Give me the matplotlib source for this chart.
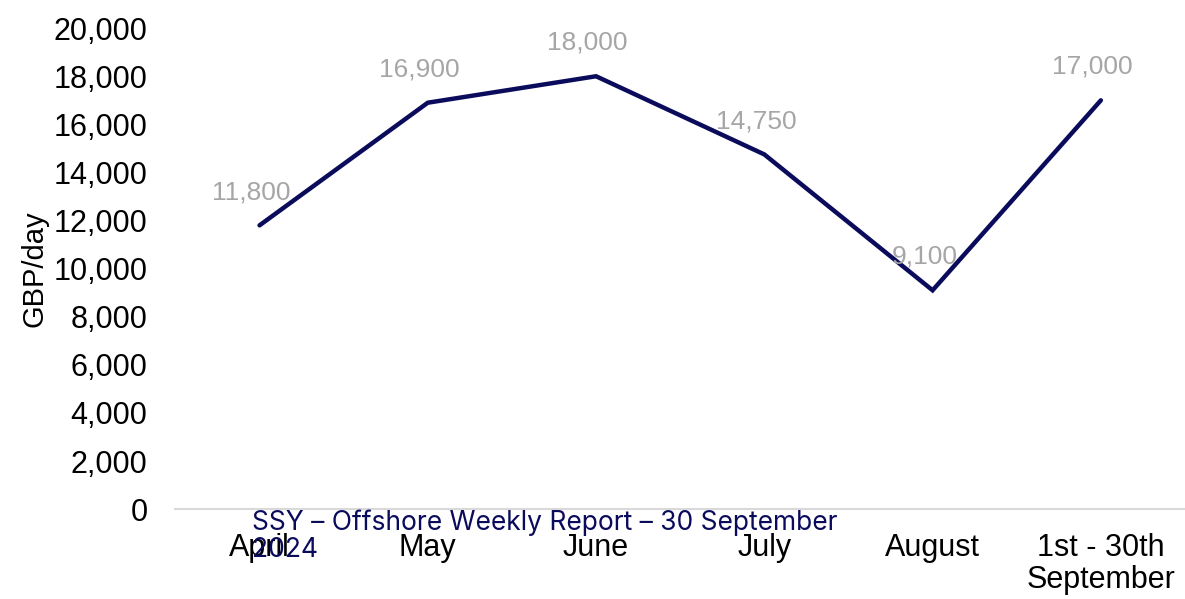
"""Monthly average rate line chart, GBP/day."""

import matplotlib.pyplot as plt

months = ["April", "May", "June", "July", "August", "1st - 30th\nSeptember"]
rates_gbp_day = [11800, 16900, 18000, 14750, 9100, 17000]
y_ticks = list(range(0, 20001, 2000))

NAVY = "#0b0b5c"
GREY = "#a6a6a6"

plt.rcParams["font.family"] = ["Liberation Sans", "DejaVu Sans"]

fig = plt.figure(figsize=(11.85, 5.99), dpi=100)
ax = fig.add_axes([0.148, 0.150, 0.852, 0.803])

x = range(len(months))
ax.plot(x, rates_gbp_day, color=NAVY, lw=3.2, solid_capstyle="round",
        solid_joinstyle="miter")
for xi, v in zip(x, rates_gbp_day):
    ax.annotate(f"{v:,}", (xi, v), xytext=(-6, 24), textcoords="offset points",
                ha="center", va="center", fontsize=19, color=GREY)

ax.set_xlim(-0.5, len(months) - 0.5)
ax.set_ylim(0, 20000)
ax.set_yticks(y_ticks)
ax.set_yticklabels([f"{t:,}" for t in y_ticks])
ax.set_xticks(list(x))
ax.set_xticklabels(months, fontsize=22, linespacing=1.1)
ax.tick_params(axis="y", length=0, labelsize=22, pad=20)
ax.tick_params(axis="x", length=0, pad=17)
ax.set_ylabel("GBP/day", fontsize=21, labelpad=4)

for side in ("top", "right", "left"):
    ax.spines[side].set_visible(False)
ax.spines["bottom"].set_color("#d9d9d9")
ax.spines["bottom"].set_linewidth(1.5)

fig.text(0.213, 0.104, "SSY – Offshore Weekly Report – 30 September\n2024",
         fontsize=19, color=NAVY, family=["Inter", "DejaVu Sans"],
         va="center", ha="left", linespacing=1.05)

fig.savefig("out.png", dpi=100)
